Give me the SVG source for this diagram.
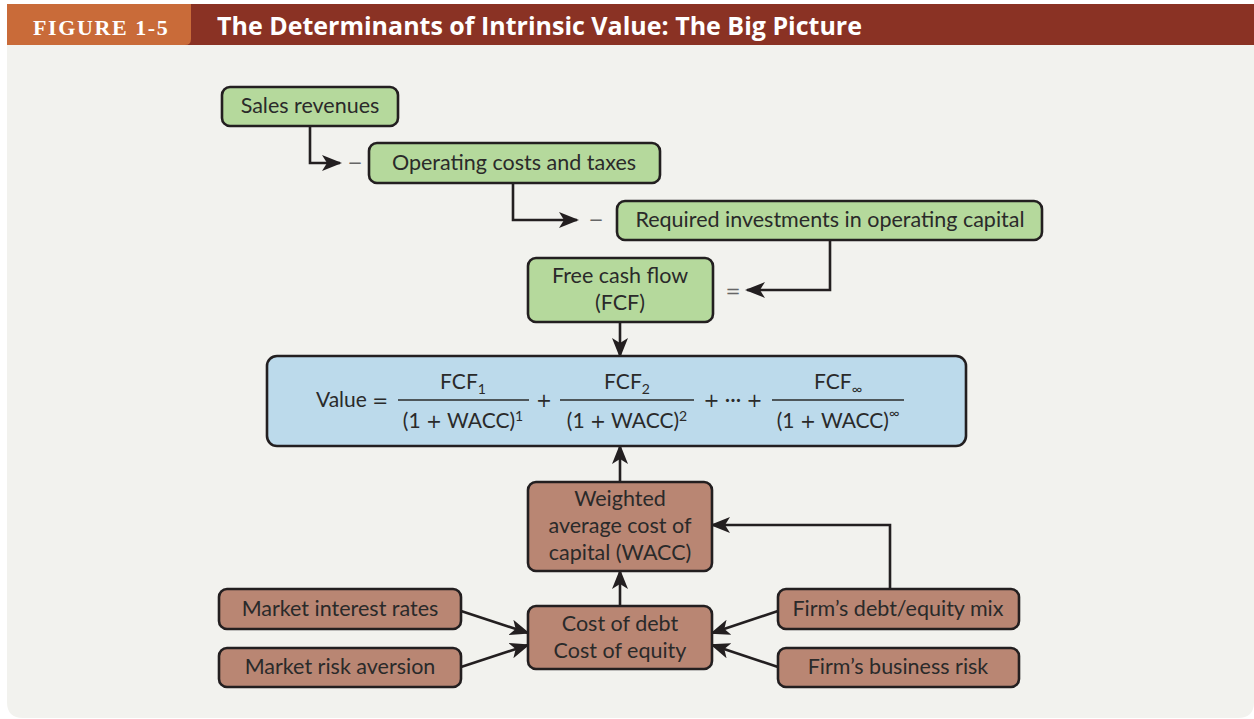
<svg xmlns="http://www.w3.org/2000/svg" width="1254" height="719" viewBox="0 0 1254 719">
  <style>
    .node { stroke: #231f20; stroke-width: 2.6; }
    .green { fill: #b5d99c; }
    .blue { fill: #bcdaeb; }
    .brown { fill: #b98673; }
    .lbl { font-family: Lato, "Open Sans", sans-serif; font-size: 21.5px; fill: #2a2a2a; text-anchor: middle; }
    .eq { font-family: Lato, "Open Sans", sans-serif; font-size: 21px; fill: #2a2a2a; }
    .sym { font-family: "DejaVu Sans", sans-serif; font-size: 19px; }
    .sub { font-size: 14px; }
    .op { font-family: "DejaVu Sans", sans-serif; font-size: 18px; fill: #666; text-anchor: middle; }
    .conn { fill: none; stroke: #231f20; stroke-width: 2.6; }
    .frac { stroke: #2a2a2a; stroke-width: 1.3; }
  </style>
  <defs>
    <marker id="arrow" markerUnits="userSpaceOnUse" markerWidth="20" markerHeight="16" viewBox="0 0 20 16" refX="18" refY="8" orient="auto">
      <path d="M0,0 L20,8 L0,16 L5,8 z" fill="#231f20"/>
    </marker>
  </defs>

  <!-- page background -->
  <rect width="1254" height="719" fill="#ffffff"/>
  <path d="M7,45 H1254 V702 Q1254,718 1238,718 H23 Q7,718 7,702 Z" fill="#f2f2ee"/>

  <!-- header bar -->
  <g id="header">
    <rect x="7" y="4" width="1247" height="41" fill="#8a3224"/>
    <path d="M7,4 H191 V39 Q191,45 185,45 H7 Z" fill="#c96b39"/>
    <text x="33" y="35" font-family="Liberation Serif, serif" font-weight="bold" font-size="22" letter-spacing="1.6" fill="#ffffff">FIGURE 1-5</text>
    <text x="217" y="35" font-family="'Open Sans', Lato, sans-serif" font-weight="bold" font-size="25" fill="#ffffff">The Determinants of Intrinsic Value: The Big Picture</text>
  </g>

  <!-- connectors -->
  <g id="connectors">
    <path class="conn" d="M310,126 V163 H340" marker-end="url(#arrow)"/>
    <path class="conn" d="M513,183 V220 H577" marker-end="url(#arrow)"/>
    <path class="conn" d="M830,240 V290 H747" marker-end="url(#arrow)"/>
    <path class="conn" d="M620,322 V356" marker-end="url(#arrow)"/>
    <path class="conn" d="M620,482 V446" marker-end="url(#arrow)"/>
    <path class="conn" d="M620,606 V571" marker-end="url(#arrow)"/>
    <path class="conn" d="M890,589 V525 H712" marker-end="url(#arrow)"/>
    <path class="conn" d="M461,611 L528,633" marker-end="url(#arrow)"/>
    <path class="conn" d="M461,667 L528,645" marker-end="url(#arrow)"/>
    <path class="conn" d="M778,611 L712,633" marker-end="url(#arrow)"/>
    <path class="conn" d="M778,667 L712,645" marker-end="url(#arrow)"/>
  </g>

  <!-- operator signs between steps -->
  <g id="operators">
    <text class="op" x="355" y="169">−</text>
    <text class="op" x="596" y="226">−</text>
    <text class="op" x="733" y="297">=</text>
  </g>

  <g id="sales-revenues">
    <rect class="node green" x="222" y="87" width="176" height="39" rx="8"/>
    <text class="lbl" x="310" y="113">Sales revenues</text>
  </g>

  <g id="operating-costs">
    <rect class="node green" x="369" y="143" width="291" height="40" rx="8"/>
    <text class="lbl" x="514" y="170">Operating costs and taxes</text>
  </g>

  <g id="required-investments">
    <rect class="node green" x="617" y="201" width="425" height="39" rx="8"/>
    <text class="lbl" x="830" y="227">Required investments in operating capital</text>
  </g>

  <g id="free-cash-flow">
    <rect class="node green" x="528" y="258" width="185" height="64" rx="8"/>
    <text class="lbl" x="620" y="283">Free cash flow</text>
    <text class="lbl" x="620" y="310">(FCF)</text>
  </g>

  <g id="value">
    <rect class="node blue" x="267" y="356" width="699" height="90" rx="10"/>
    <text class="eq" x="316" y="407">Value <tspan class="sym">=</tspan></text>
    <!-- term 1 -->
    <text class="eq" x="463" y="389" text-anchor="middle">FCF<tspan class="sub" dy="5">1</tspan></text>
    <line class="frac" x1="398" y1="400" x2="529" y2="400"/>
    <text class="eq" x="463" y="428" text-anchor="middle">(1 <tspan class="sym">+</tspan> WACC)<tspan class="sub" dy="-7">1</tspan></text>
    <text class="eq sym" x="544" y="407" text-anchor="middle">+</text>
    <!-- term 2 -->
    <text class="eq" x="627" y="389" text-anchor="middle">FCF<tspan class="sub" dy="5">2</tspan></text>
    <line class="frac" x1="560" y1="400" x2="694" y2="400"/>
    <text class="eq" x="627" y="428" text-anchor="middle">(1 <tspan class="sym">+</tspan> WACC)<tspan class="sub" dy="-7">2</tspan></text>
    <text class="eq" x="733" y="407" text-anchor="middle"><tspan class="sym">+</tspan> ··· <tspan class="sym">+</tspan></text>
    <!-- term n -->
    <text class="eq" x="838" y="389" text-anchor="middle">FCF<tspan class="sub" dy="5">∞</tspan></text>
    <line class="frac" x1="772" y1="400" x2="904" y2="400"/>
    <text class="eq" x="838" y="428" text-anchor="middle">(1 <tspan class="sym">+</tspan> WACC)<tspan class="sub" dy="-10">∞</tspan></text>
  </g>

  <g id="wacc">
    <rect class="node brown" x="528" y="482" width="184" height="89" rx="8"/>
    <text class="lbl" x="620" y="506">Weighted</text>
    <text class="lbl" x="620" y="533">average cost of</text>
    <text class="lbl" x="620" y="560">capital (WACC)</text>
  </g>

  <g id="cost-of-capital-components">
    <rect class="node brown" x="528" y="606" width="184" height="63" rx="8"/>
    <text class="lbl" x="620" y="631">Cost of debt</text>
    <text class="lbl" x="620" y="658">Cost of equity</text>
  </g>

  <g id="market-interest-rates">
    <rect class="node brown" x="219" y="589" width="242" height="40" rx="8"/>
    <text class="lbl" x="340" y="616">Market interest rates</text>
  </g>

  <g id="market-risk-aversion">
    <rect class="node brown" x="219" y="648" width="242" height="39" rx="8"/>
    <text class="lbl" x="340" y="674">Market risk aversion</text>
  </g>

  <g id="debt-equity-mix">
    <rect class="node brown" x="778" y="589" width="241" height="40" rx="8"/>
    <text class="lbl" x="898" y="616">Firm’s debt/equity mix</text>
  </g>

  <g id="business-risk">
    <rect class="node brown" x="778" y="648" width="241" height="39" rx="8"/>
    <text class="lbl" x="898" y="674">Firm’s business risk</text>
  </g>
</svg>
